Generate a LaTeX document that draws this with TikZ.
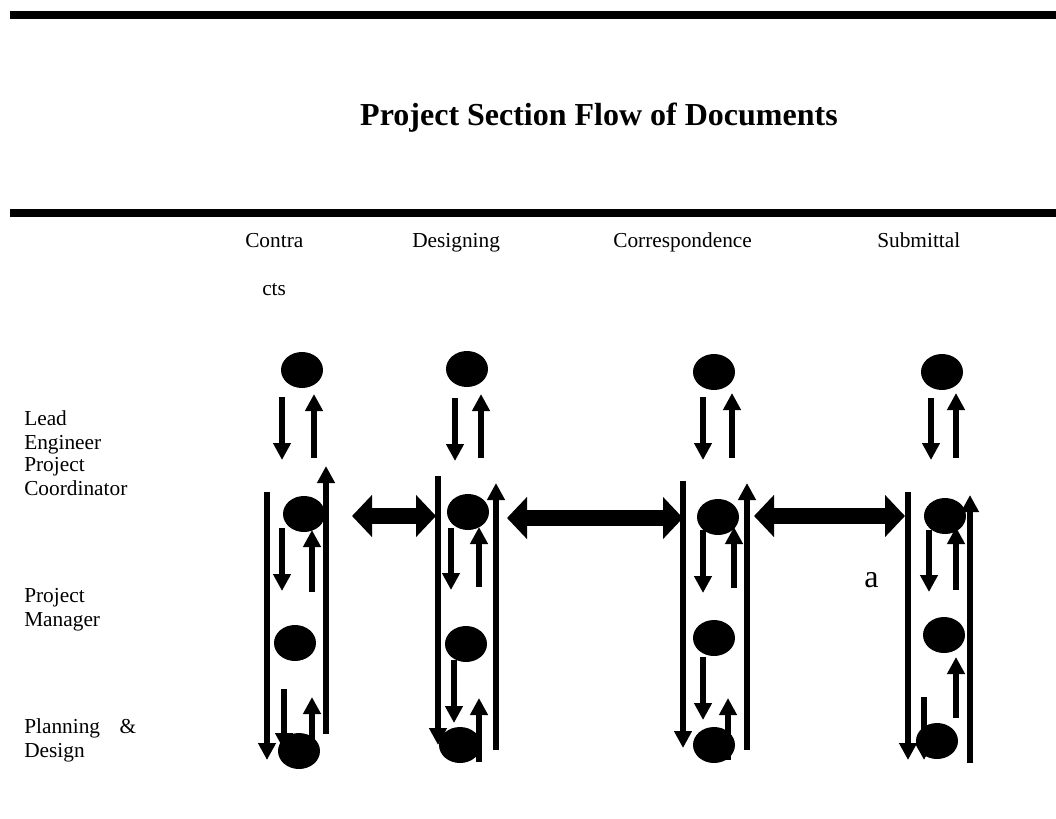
\documentclass[tikz,border=0pt]{standalone}
\usepackage{fontspec}
\setmainfont{Liberation Serif}
\usetikzlibrary{arrows.meta,shapes.geometric}

% vertical document arrow: name, x, y of tail, y of tip
\newcommand{\docarrow}[4]{%
  \coordinate (#1-s) at (#2,#3);
  \coordinate (#1-e) at (#2,#4);
  \draw[flow] (#1-s) -- (#1-e);}

\begin{document}
\begin{tikzpicture}[x=0.75pt,y=-0.75pt,
  rulebar/.style={line width=6pt},
  doc/.style={ellipse,fill=black,draw=none,minimum width=31.5pt,
    minimum height=27pt,inner sep=0pt},
  flow/.style={line width=4.3pt,-{Triangle[width=12.75pt,length=12.75pt]}},
  swap/.style={line width=12pt,
    {Triangle[width=30.75pt,length=15pt]}-{Triangle[width=30.75pt,length=15pt]}},
  lbl/.style={font=\fontsize{16}{17.6}\selectfont,inner sep=0pt,
    align=left,anchor=base west}]
\useasboundingbox (0,0) rectangle (1056,818);

% heavy rules
\coordinate (r1a) at (10,15);  \coordinate (r1b) at (1056,15);
\coordinate (r2a) at (10,213); \coordinate (r2b) at (1056,213);
\draw[rulebar] (r1a) -- (r1b);
\draw[rulebar] (r2a) -- (r2b);

% title
\node[font=\fontsize{24}{28}\selectfont\bfseries,anchor=base,inner sep=0pt]
  (title) at (599,125) {Project Section Flow of Documents};

% column headings
\node[lbl] (hcon) at (245,247) {Contra};
\node[lbl] (hcts) at (262,295) {cts};
\node[lbl] (hdes) at (412,247) {Designing};
\node[lbl] (hcor) at (613,247) {Correspondence};
\node[lbl] (hsub) at (877,247) {Submittal};

% row headings (anchored on the baseline of their last line)
\node[lbl] (rlead) at (24,449) {Lead\\Engineer};
\node[lbl] (rcoord) at (24,495) {Project\\Coordinator};
\node[lbl] (rman) at (24,626) {Project\\Manager};
\node[lbl] (rpd) at (24,757) {\makebox[84pt][s]{Planning \&}\\Design};

% arrows passing behind the bottom documents
\docarrow{c1pdd}{284}{689}{750}
\docarrow{c1pdu}{312}{750}{697}
\docarrow{c4pdd}{924}{697}{760}

% documents
\node[doc] (c1lead) at (302,370) {};
\node[doc] (c1coord) at (304,514) {};
\node[doc] (c1man) at (295,643) {};
\node[doc] (c1pd) at (299,751) {};
\node[doc] (c2lead) at (467,369) {};
\node[doc] (c2coord) at (468,512) {};
\node[doc] (c2man) at (466,644) {};
\node[doc] (c2pd) at (460,745) {};
\node[doc] (c3lead) at (714,372) {};
\node[doc] (c3coord) at (718,517) {};
\node[doc] (c3man) at (714,638) {};
\node[doc] (c3pd) at (714,745) {};
\node[doc] (c4lead) at (942,372) {};
\node[doc] (c4coord) at (945,516) {};
\node[doc] (c4man) at (944,635) {};
\node[doc] (c4pd) at (937,741) {};

% Contracts column
\docarrow{c1ld}{282}{397}{460}
\docarrow{c1lu}{314}{458}{394}
\docarrow{c1long}{267}{492}{760}
\docarrow{c1back}{326}{734}{466}
\docarrow{c1cd}{282}{528}{591}
\docarrow{c1cu}{312}{592}{530}

% Designing column
\docarrow{c2ld}{455}{398}{461}
\docarrow{c2lu}{481}{458}{394}
\docarrow{c2long}{438}{476}{745}
\docarrow{c2back}{496}{750}{483}
\docarrow{c2cd}{451}{528}{590}
\docarrow{c2cu}{479}{587}{527}
\docarrow{c2md}{454}{660}{723}
\docarrow{c2pu}{479}{762}{698}

% Correspondence column
\docarrow{c3ld}{703}{397}{460}
\docarrow{c3lu}{732}{458}{393}
\docarrow{c3long}{683}{481}{748}
\docarrow{c3back}{747}{750}{483}
\docarrow{c3cd}{703}{530}{593}
\docarrow{c3cu}{734}{588}{527}
\docarrow{c3md}{703}{657}{720}
\docarrow{c3pu}{728}{760}{698}

% Submittal column
\docarrow{c4ld}{931}{398}{460}
\docarrow{c4lu}{956}{458}{393}
\docarrow{c4long}{908}{492}{760}
\docarrow{c4back}{970}{763}{495}
\docarrow{c4cd}{929}{530}{592}
\docarrow{c4cu}{956}{590}{527}
\docarrow{c4pu}{956}{718}{657}

% exchanges between the coordinators
\coordinate (x1a) at (352,516); \coordinate (x1b) at (436,516);
\coordinate (x2a) at (507,518); \coordinate (x2b) at (683,518);
\coordinate (x3a) at (754,516); \coordinate (x3b) at (905,516);
\draw[swap] (x1a) -- (x1b);
\draw[swap] (x2a) -- (x2b);
\draw[swap] (x3a) -- (x3b);

% stray mark
\node[font=\fontsize{24}{28}\selectfont,anchor=base west,inner sep=0pt]
  (mark) at (864,587) {a};
\end{tikzpicture}
\end{document}
